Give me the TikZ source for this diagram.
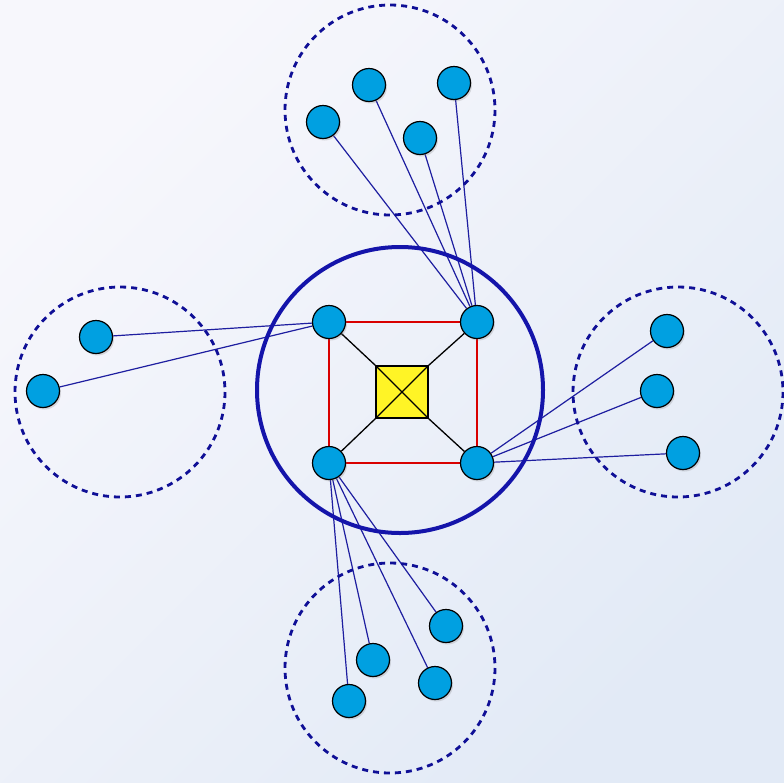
\documentclass[tikz,border=0pt]{standalone}
\usetikzlibrary{shadows}
\pgfdeclarelayer{back}
\pgfdeclarelayer{edges}
\pgfsetlayers{back,edges,main}
\begin{document}
\begin{tikzpicture}[x=1pt,y=-1pt,
  dot/.style={circle,draw=black,line width=1.2pt,fill=nodeblue,minimum size=33pt,inner sep=0pt,
    drop shadow={shadow xshift=1.5pt,shadow yshift=-2pt,opacity=0.25}},
  link/.style={draw=linkblue,line width=1.2pt},
  grp/.style={draw=grpblue,line width=2.8pt,dash pattern=on 6pt off 5pt},
  ring/.style={draw=ringblue,line width=4pt},
  redline/.style={draw=red!85!black,line width=1.2pt},
  blk/.style={draw=black,line width=1.3pt}]
\definecolor{nodeblue}{RGB}{0,160,225}
\definecolor{linkblue}{RGB}{30,30,160}
\definecolor{grpblue}{RGB}{15,15,150}
\definecolor{ringblue}{RGB}{20,20,170}
\definecolor{bgA}{RGB}{247,247,252}
\definecolor{bgB}{RGB}{226,234,246}
\useasboundingbox (0,0) rectangle (784,782);
\begin{pgfonlayer}{back}
\shade[left color=bgA,right color=bgB,shading angle=45] (0,0) rectangle (784,782);
\end{pgfonlayer}
% groups
\draw[grp] (390,110) circle (105);
\draw[grp] (120,392) circle (105);
\draw[grp] (678,392) circle (105);
\draw[grp] (390,668) circle (105);
\draw[ring] (400,390) circle (143);
% hub nodes
\node[dot] (tl) at (329,322) {};
\node[dot] (tr) at (477,322) {};
\node[dot] (bl) at (329,463) {};
\node[dot] (br) at (477,463) {};
\node[draw=black,line width=1.4pt,fill=yellow!85!white,minimum size=52pt,inner sep=0pt] (sw) at (402,392) {};
% outer nodes
\node[dot] (t1) at (323,122) {};
\node[dot] (t2) at (369,85) {};
\node[dot] (t3) at (454,83) {};
\node[dot] (t4) at (420,138) {};
\node[dot] (l1) at (96,337) {};
\node[dot] (l2) at (43,391) {};
\node[dot] (r1) at (667,331) {};
\node[dot] (r2) at (657,391) {};
\node[dot] (r3) at (683,453) {};
\node[dot] (b1) at (446,626) {};
\node[dot] (b2) at (373,660) {};
\node[dot] (b3) at (435,683) {};
\node[dot] (b4) at (349,701) {};
\path[blk] (sw.north west) -- (sw.south east) (sw.north east) -- (sw.south west);
\begin{pgfonlayer}{edges}
\path[redline] (tl.center) -- (tr.center) -- (br.center) -- (bl.center) -- cycle;
\path[blk] (sw.north west) -- (tl) (sw.north east) -- (tr) (sw.south west) -- (bl) (sw.south east) -- (br);
\foreach \n in {t1,t2,t3,t4} \path[link] (\n) -- (tr);
\foreach \n in {l1,l2} \path[link] (\n) -- (tl);
\foreach \n in {r1,r2,r3} \path[link] (\n) -- (br);
\foreach \n in {b1,b2,b3,b4} \path[link] (\n) -- (bl);
\end{pgfonlayer}
\end{tikzpicture}
\end{document}
